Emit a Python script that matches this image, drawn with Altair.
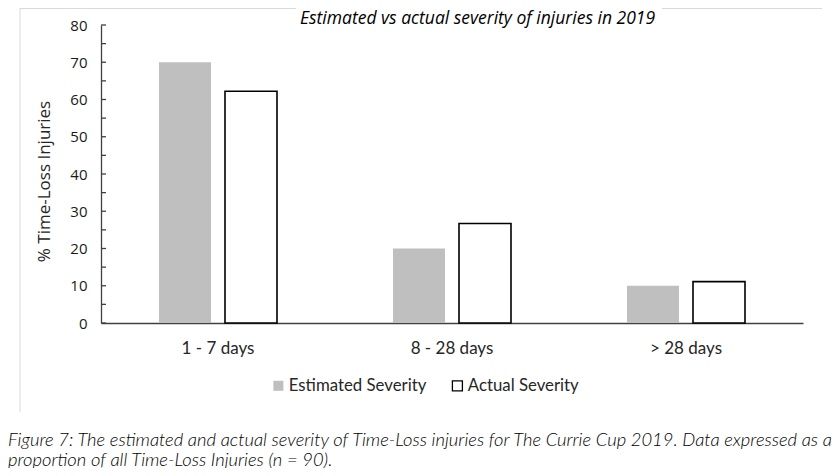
import altair as alt
import pandas as pd

# ---- data ----
categories = ["1 - 7 days", "8 - 28 days", "> 28 days"]
series = ["Estimated Severity", "Actual Severity"]
estimated = [70, 20, 10]
actual = [62.2, 26.7, 11.1]
y_ticks = [0, 5, 10, 15, 20, 25, 30, 35, 40, 45, 50, 55, 60, 65, 70, 75, 80]

title_text = "Estimated vs actual severity of injuries in 2019"
y_title = "% Time-Loss Injuries"
caption_line1 = "Figure 7: The estimated and actual severity of Time-Loss injuries for The Currie Cup 2019. Data expressed as a"
caption_line2 = "proportion of all Time-Loss Injuries (n = 90)."

rows = []
for c, e, a in zip(categories, estimated, actual):
    rows.append({"Category": c, "Series": series[0], "Value": e})
    rows.append({"Category": c, "Series": series[1], "Value": a})
df = pd.DataFrame(rows)
ticks_df = pd.DataFrame({"Value": y_ticks})
one_row = pd.DataFrame({"k": [0]})

W, H = 702, 298
AXIS_COLOR = "#404040"
TEXT_COLOR = "#262626"

y_scale = alt.Scale(domain=[0, 80], nice=False, zero=True)

x_enc = alt.X(
    "Category:N",
    sort=categories,
    scale=alt.Scale(domain=categories, paddingInner=0, paddingOuter=0),
    axis=alt.Axis(
        title=None, ticks=False, tickSize=0, labelAngle=0,
        labelFont="Lato", labelFontSize=17, labelColor=TEXT_COLOR,
        labelPadding=25, labelBaseline="middle",
        domainColor=AXIS_COLOR, domainWidth=1.3, grid=False,
    ),
)


def y_axis():
    return alt.Axis(
        values=y_ticks,
        labelExpr="datum.value % 10 == 0 ? datum.label : ''",
        labelOverlap=False,
        ticks=False, tickSize=0, grid=False,
        labelFont="Open Sans", labelFontSize=15, labelColor="#1a1a1a",
        labelPadding=14,
        domainColor=AXIS_COLOR, domainWidth=1.3,
        title=y_title, titleFont="Open Sans", titleFontSize=17,
        titleFontWeight="normal", titleColor=TEXT_COLOR,
        titleAngle=270, titleX=-57, titleY=156, titleAlign="center",
        titleBaseline="middle",
    )


def legend():
    return alt.Legend(
        title=None, orient="none", legendX=169, legendY=352,
        direction="horizontal", symbolType="square", symbolSize=100,
        symbolStrokeWidth=1.3, labelFont="Lato", labelFontSize=16.8,
        labelColor=TEXT_COLOR, labelOffset=2, columnPadding=22,
    )


bars = alt.Chart(df).mark_bar(strokeWidth=1.6).encode(
    x=x_enc,
    xOffset=alt.XOffset(
        "Series:N", sort=series,
        scale=alt.Scale(domain=series, paddingInner=0.212, paddingOuter=0.879),
    ),
    y=alt.Y("Value:Q", scale=y_scale, axis=y_axis()),
    fill=alt.Fill(
        "Series:N",
        scale=alt.Scale(domain=series, range=["#bfbfbf", "#ffffff"]),
        legend=legend(),
    ),
    stroke=alt.Stroke(
        "Series:N",
        scale=alt.Scale(domain=series, range=["transparent", "#000000"]),
        legend=legend(),
    ),
)

inner_ticks = alt.Chart(ticks_df).mark_rule(color=AXIS_COLOR, strokeWidth=1.3).encode(
    y=alt.Y("Value:Q", scale=y_scale, axis=y_axis()),
    x=alt.value(0),
    x2=alt.value(5),
)

# light chart-area frame (left and top edges, top edge broken by the title)
frame_left = alt.Chart(one_row).mark_rule(color="#d9d9d9", strokeWidth=1).encode(
    x=alt.value(-81), y=alt.value(-17), y2=alt.value(387)
)
frame_top_a = alt.Chart(one_row).mark_rule(color="#d9d9d9", strokeWidth=1).encode(
    x=alt.value(-81), x2=alt.value(195), y=alt.value(-16.5)
)
frame_top_b = alt.Chart(one_row).mark_rule(color="#d9d9d9", strokeWidth=1).encode(
    x=alt.value(561), x2=alt.value(721), y=alt.value(-16.5)
)

chart_title = alt.Chart(one_row).mark_text(
    align="left", baseline="alphabetic", font="Open Sans", fontStyle="italic",
    fontSize=17.5, color="#000000",
).encode(
    x=alt.value(199), y=alt.value(-1), text=alt.value(title_text)
)

caption_style = dict(
    align="left", baseline="alphabetic", font="Lato", fontStyle="italic",
    fontWeight=300, fontSize=18.4, color="#000000",
)
caption1 = alt.Chart(one_row).mark_text(**caption_style).encode(
    x=alt.value(-93), y=alt.value(421), text=alt.value(caption_line1)
)
caption2 = alt.Chart(one_row).mark_text(**caption_style).encode(
    x=alt.value(-93), y=alt.value(440.5), text=alt.value(caption_line2)
)

chart = alt.layer(
    bars, inner_ticks, frame_left, frame_top_a, frame_top_b,
    chart_title, caption1, caption2,
).properties(
    width=W, height=H,
    autosize=alt.AutoSizeParams(type="none"),
    padding={"left": 93, "top": 17, "right": 29, "bottom": 145},
).configure_view(strokeWidth=0)

chart.save("out.html", embed_options={"renderer": "svg", "actions": False})
